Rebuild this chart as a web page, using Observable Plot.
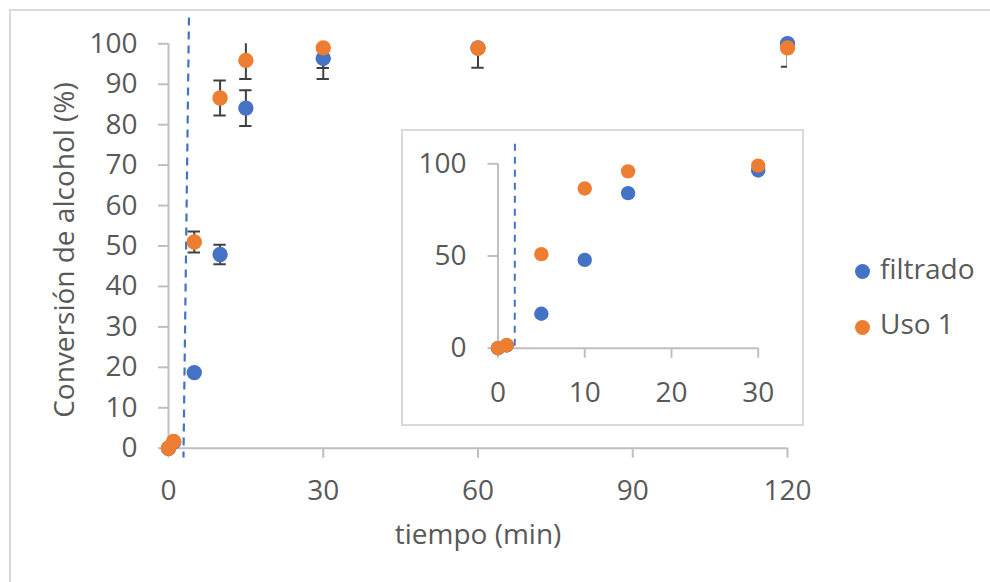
<!DOCTYPE html>
<html>
<head>
<meta charset="utf-8">
<script src="https://cdn.jsdelivr.net/npm/d3@7"></script>
<script src="https://cdn.jsdelivr.net/npm/@observablehq/plot@0.6"></script>
<style>
  html, body { margin: 0; padding: 0; background: #fff; overflow: hidden; width: 990px; height: 582px; }
  #frame { position: absolute; left: 9px; top: 9px; width: 2000px; height: 2000px; border: 2px solid #d9d9d9; }
  #main { position: absolute; left: 0; top: 0; }
  #inset { position: absolute; left: 401px; top: 129px; width: 399px; height: 293px; border: 2px solid #d9d9d9; background: #fff; }
  .key { position: absolute; font-family: "Open Sans", sans-serif; font-size: 28px; line-height: 28px; color: #595959; white-space: nowrap; }
  .sw { position: absolute; width: 15px; height: 15px; border-radius: 50%; }
</style>
</head>
<body>
<div id="frame"></div>
<div id="main"></div>
<div id="inset"></div>
<div id="legend"></div>
<script>
// Alcohol conversion (%) over time (min) for two runs
const tiempo      = [0, 1, 5, 10, 15, 30, 60, 120];
const filtrado    = [0, 1.5, 18.7, 47.9, 84.1, 96.4, 99.0, 100];
const uso1        = [0, 1.7, 51.0, 86.6, 95.9, 99.0, 98.9, 99.0];
const filtradoErr = [null, null, null, 2.4, 4.4, 5.1, null, null];
const uso1Err     = [null, null, 2.6, 4.3, 4.6, 5.0, 4.8, 4.7];

const seriesNames  = ["filtrado", "Uso 1"];
const seriesColors = ["#4472C4", "#ED7D31"];

const mainXTicks  = [0, 30, 60, 90, 120];
const mainYTicks  = [0, 10, 20, 30, 40, 50, 60, 70, 80, 90, 100];
const insetXTicks = [0, 10, 20, 30];
const insetYTicks = [0, 50, 100];

// dashed reference line (moment of filtration), endpoints in data units
const cutMainT  = [3.97, 2.9];
const cutMainY  = [106.5, -2.3];
const cutInsetT = [1.95, 1.93];
const cutInsetY = [110.9, -1.3];

const xTitle = "tiempo (min)";
const yTitle = "Conversión de alcohol (%)";

const valueSets = [filtrado, uso1];
const errorSets = [filtradoErr, uso1Err];
const rows = seriesNames.flatMap((serie, k) =>
  tiempo.map((t, i) => ({serie, t, v: valueSets[k][i], e: errorSets[k][i]}))
);
const errRows = rows.filter(d => d.e != null);

const gray = "#bfbfbf";
const ink = "#595959";
const barInk = "#404040";
const capHalf = 1.2; // minutes

const baseStyle = {fontFamily: "'Open Sans', sans-serif", fontSize: "28px", color: ink, background: "transparent", overflow: "visible"};
const color = {domain: seriesNames, range: seriesColors};

const main = Plot.plot({
  width: 990, height: 582,
  marginLeft: 168, marginRight: 203, marginTop: 43.3, marginBottom: 134.3,
  x: {domain: [0, 120]},
  y: {domain: [0, 100]},
  color,
  style: baseStyle,
  marks: [
    Plot.ruleY([0], {stroke: gray, strokeWidth: 2}),
    Plot.ruleX([0], {stroke: gray, strokeWidth: 2}),
    Plot.axisX({ticks: mainXTicks, tickSize: 10, tickPadding: 22, stroke: gray, strokeWidth: 2, fill: ink, label: null}),
    Plot.axisY({ticks: mainYTicks, tickSize: 10, tickPadding: 21, stroke: gray, strokeWidth: 2, fill: ink, label: null}),
    Plot.text([xTitle], {text: d => d, frameAnchor: "bottom", textAnchor: "middle", dy: 96, fill: ink}),
    Plot.text([yTitle], {text: d => d, frameAnchor: "left", textAnchor: "middle", rotate: -90, dx: -103, dy: 4, fill: ink}),
    Plot.link([0], {x1: () => cutMainT[0], y1: () => cutMainY[0], x2: () => cutMainT[1], y2: () => cutMainY[1],
      stroke: "#4472C4", strokeWidth: 2.2, strokeDasharray: "8,6"}),
    Plot.ruleX(errRows, {x: "t", y1: d => d.v - d.e, y2: d => d.v + d.e, stroke: barInk, strokeWidth: 2, clip: true}),
    Plot.ruleY(errRows, {y: d => d.v - d.e, x1: d => d.t - capHalf, x2: d => d.t + capHalf, stroke: barInk, strokeWidth: 2, clip: true}),
    Plot.ruleY(errRows, {y: d => d.v + d.e, x1: d => d.t - capHalf, x2: d => d.t + capHalf, stroke: barInk, strokeWidth: 2, clip: true}),
    Plot.dot(rows, {x: "t", y: "v", fill: "serie", r: 7.7})
  ]
});
document.getElementById("main").append(main);

const insetRows = rows.filter(d => d.t <= 30);
const inset = Plot.plot({
  width: 399, height: 293,
  marginLeft: 94.5, marginRight: 44.3, marginTop: 32.3, marginBottom: 76.3,
  x: {domain: [0, 30]},
  y: {domain: [0, 100]},
  color,
  style: baseStyle,
  marks: [
    Plot.ruleY([0], {stroke: gray, strokeWidth: 2}),
    Plot.ruleX([0], {stroke: gray, strokeWidth: 2}),
    Plot.axisX({ticks: insetXTicks, tickSize: 10, tickPadding: 23.5, stroke: gray, strokeWidth: 2, fill: ink, label: null}),
    Plot.axisY({ticks: insetYTicks, tickSize: 10, tickPadding: 21.5, stroke: gray, strokeWidth: 2, fill: ink, label: null}),
    Plot.link([0], {x1: () => cutInsetT[0], y1: () => cutInsetY[0], x2: () => cutInsetT[1], y2: () => cutInsetY[1],
      stroke: "#4472C4", strokeWidth: 2, strokeDasharray: "7,6"}),
    Plot.dot(insetRows, {x: "t", y: "v", fill: "serie", r: 7.2})
  ]
});
document.getElementById("inset").append(inset);

// legend
const legend = document.getElementById("legend");
const keyCenters = [271.7, 327.3];
seriesNames.forEach((name, k) => {
  const sw = document.createElement("div");
  sw.className = "sw";
  sw.style.left = (862.7 - 7.5) + "px";
  sw.style.top = (keyCenters[k] - 7.5) + "px";
  sw.style.background = seriesColors[k];
  legend.append(sw);
  const label = document.createElement("div");
  label.className = "key";
  label.style.left = "880px";
  label.style.top = (keyCenters[k] - 18.1) + "px";
  label.textContent = name;
  legend.append(label);
});
</script>
</body>
</html>
